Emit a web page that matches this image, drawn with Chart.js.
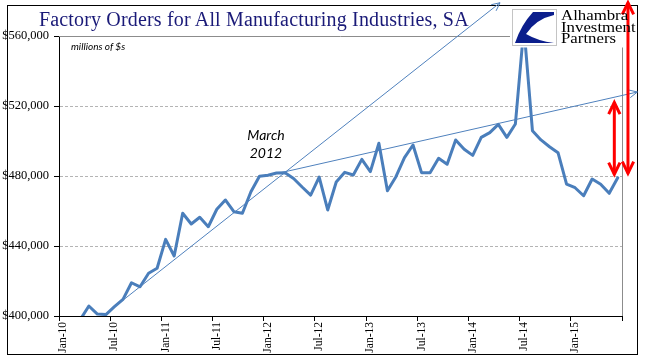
<!DOCTYPE html>
<html>
<head>
<meta charset="utf-8">
<script src="https://cdn.jsdelivr.net/npm/chart.js@4.4.0/dist/chart.umd.min.js"></script>
<style>
  body { margin: 0; background: #fff; }
  #wrap { position: relative; width: 667px; height: 358px; overflow: hidden; }
  #frame { position: absolute; left: 7px; top: 5px; width: 631px; height: 350px; border: 1px solid #000; box-sizing: border-box; }
  #chart { position: absolute; left: 0; top: 0; }
  .title { position: absolute; left: 39px; top: 9px; font: 20px "Liberation Serif", serif; line-height: 20px; letter-spacing: 0.16px; color: #1a1a78; white-space: nowrap; }
  .units { position: absolute; left: 71px; top: 40px; font: italic 10px Lato, sans-serif; line-height: 12px; color: #000; }
  .note { position: absolute; left: 240px; top: 126px; width: 52px; text-align: center; font: italic 14px Lato, sans-serif; line-height: 18px; color: #000; }
  .logo { position: absolute; left: 561px; top: 10px; font: 14px "Liberation Serif", serif; line-height: 11.7px; color: #000; transform: scaleX(1.2); transform-origin: left top; white-space: nowrap; }
</style>
</head>
<body>
<div id="wrap">
  <div id="frame"></div>
  <canvas id="chart" width="667" height="358"></canvas>
  <div class="title">Factory Orders for All Manufacturing Industries, SA</div>
  <div class="units">millions of $s</div>
  <div class="note">March<br>2012</div>
  <div class="logo">Alhambra<br>Investment<br>Partners</div>
</div>
<script>
const months = [
  'Jan-10','Feb-10','Mar-10','Apr-10','May-10','Jun-10','Jul-10','Aug-10','Sep-10','Oct-10','Nov-10','Dec-10',
  'Jan-11','Feb-11','Mar-11','Apr-11','May-11','Jun-11','Jul-11','Aug-11','Sep-11','Oct-11','Nov-11','Dec-11',
  'Jan-12','Feb-12','Mar-12','Apr-12','May-12','Jun-12','Jul-12','Aug-12','Sep-12','Oct-12','Nov-12','Dec-12',
  'Jan-13','Feb-13','Mar-13','Apr-13','May-13','Jun-13','Jul-13','Aug-13','Sep-13','Oct-13','Nov-13','Dec-13',
  'Jan-14','Feb-14','Mar-14','Apr-14','May-14','Jun-14','Jul-14','Aug-14','Sep-14','Oct-14','Nov-14','Dec-14',
  'Jan-15','Feb-15','Mar-15','Apr-15','May-15','Jun-15'
];

// millions of $, seasonally adjusted
const orders = [
  392000, 395000, 398000, 405700, 401100, 400800, 405300, 409500, 419000, 416700, 424400, 427300,
  443800, 434300, 458700, 452600, 456400, 451000, 461000, 466300, 459600, 458700, 471000, 479800,
  480400, 481700, 481900, 478600, 473700, 469100, 479400, 460600, 476600, 482100, 480600, 489500,
  482500, 498700, 471600, 479600, 490500, 497700, 481900, 481900, 490100, 486700, 500600, 495300,
  491800, 502100, 504800, 509500, 502100, 509700, 565000, 505900, 500600, 496700, 493300, 475400,
  473300, 468700, 478300, 475300, 470100, 479000
];

const yTicks = [400000, 440000, 480000, 520000, 560000];
const dashedLevels = [440000, 480000, 520000];

// hand-drawn annotations, in month index / $ units
const trendLines = [
  { from: [5.3, 402500], to: [51.2, 579000] },
  { from: [25.6, 482000], to: [67.3, 528000] }
];
const redArrows = [
  { x: 64.6, from: 481000, to: 522000 },
  { x: 66.2, from: 481500, to: 579000 }
];

function arrowHead(ctx, x0, y0, x1, y1, len, spread) {
  const a = Math.atan2(y1 - y0, x1 - x0);
  ctx.beginPath();
  ctx.moveTo(x1 - len * Math.cos(a - spread), y1 - len * Math.sin(a - spread));
  ctx.lineTo(x1, y1);
  ctx.lineTo(x1 - len * Math.cos(a + spread), y1 - len * Math.sin(a + spread));
  ctx.stroke();
}

const decor = {
  id: 'decor',
  afterDraw(chart) {
    const { ctx, chartArea: a, scales: { x, y } } = chart;
    ctx.save();

    // plot area border, top and right
    ctx.strokeStyle = '#8c8c8c';
    ctx.lineWidth = 1;
    ctx.beginPath();
    ctx.moveTo(a.left, a.top + 0.5);
    ctx.lineTo(a.right, a.top + 0.5);
    ctx.moveTo(a.right + 0.5, a.top);
    ctx.lineTo(a.right + 0.5, a.bottom);
    ctx.stroke();

    // trend lines
    ctx.strokeStyle = '#4f81bd';
    ctx.lineWidth = 1;
    trendLines.forEach(t => {
      const x0 = x.getPixelForValue(t.from[0]), y0 = y.getPixelForValue(t.from[1]);
      const x1 = x.getPixelForValue(t.to[0]), y1 = y.getPixelForValue(t.to[1]);
      ctx.beginPath();
      ctx.moveTo(x0, y0);
      ctx.lineTo(x1, y1);
      ctx.stroke();
      arrowHead(ctx, x0, y0, x1, y1, 9, 0.45);
    });

    // logo background and mark
    ctx.fillStyle = '#fff';
    ctx.fillRect(510, 6, 127, 41.5);
    ctx.strokeStyle = '#c4c4c4';
    ctx.strokeRect(512.5, 9.5, 44, 36);
    const lx = 512, ly = 9;
    ctx.fillStyle = '#0b1e8c';
    ctx.beginPath();
    ctx.moveTo(lx + 21, ly + 3);
    ctx.lineTo(lx + 42, ly + 3);
    ctx.lineTo(lx + 42, ly + 6);
    ctx.quadraticCurveTo(lx + 24, ly + 10, lx + 14, ly + 25);
    ctx.quadraticCurveTo(lx + 26, ly + 32, lx + 42, ly + 34);
    ctx.lineTo(lx + 3, ly + 34);
    ctx.quadraticCurveTo(lx + 9, ly + 16, lx + 21, ly + 3);
    ctx.fill();

    // red double arrows
    ctx.strokeStyle = '#ff0000';
    ctx.lineWidth = 3;
    ctx.lineJoin = 'miter';
    redArrows.forEach(r => {
      const px = x.getPixelForValue(r.x);
      const yb = y.getPixelForValue(r.from), yt = y.getPixelForValue(r.to);
      ctx.beginPath();
      ctx.moveTo(px, yb);
      ctx.lineTo(px, yt);
      ctx.stroke();
      arrowHead(ctx, px, yb, px, yt, 13, 0.45);
      arrowHead(ctx, px, yt, px, yb, 13, 0.45);
    });

    ctx.restore();
  }
};

const serif = 'Liberation Serif';

new Chart(document.getElementById('chart'), {
  type: 'line',
  data: {
    labels: months,
    datasets: [{
      data: orders,
      borderColor: '#4a7ebb',
      borderWidth: 3,
      pointRadius: 0,
      tension: 0,
      borderJoinStyle: 'round',
      borderCapStyle: 'round',
      fill: false
    }]
  },
  options: {
    responsive: false,
    animation: false,
    layout: { padding: { top: 36, right: 45, left: 0, bottom: 0 } },
    plugins: { legend: { display: false }, tooltip: { enabled: false } },
    scales: {
      x: {
        type: 'category',
        offset: true,
        grid: {
          offset: true,
          drawOnChartArea: false,
          tickLength: 5,
          tickColor: c => (c.type !== 'tick' || c.index % 6 === 0) ? '#000' : 'rgba(0,0,0,0)'
        },
        border: { color: '#000' },
        ticks: {
          autoSkip: false,
          minRotation: 90,
          maxRotation: 90,
          padding: 1,
          color: '#000',
          font: { family: serif, size: 11.5 },
          callback: (v, i) => (i % 6 === 0 ? months[i] : '')
        },
        afterFit: s => { s.height = 42; }
      },
      y: {
        min: yTicks[0],
        max: yTicks[yTicks.length - 1],
        afterBuildTicks: s => { s.ticks = yTicks.map(v => ({ value: v })); },
        grid: {
          color: c => (c.tick && dashedLevels.includes(c.tick.value)) ? '#b4b4b4' : 'rgba(0,0,0,0)',
          tickColor: '#000',
          tickLength: 5
        },
        border: { color: '#000', dash: [3, 2] },
        ticks: {
          padding: 5,
          color: '#000',
          font: { family: serif, size: 12.5 },
          callback: v => '$' + v.toLocaleString('en-US')
        },
        afterFit: s => { s.width = 59; }
      }
    }
  },
  plugins: [decor]
});
</script>
</body>
</html>
